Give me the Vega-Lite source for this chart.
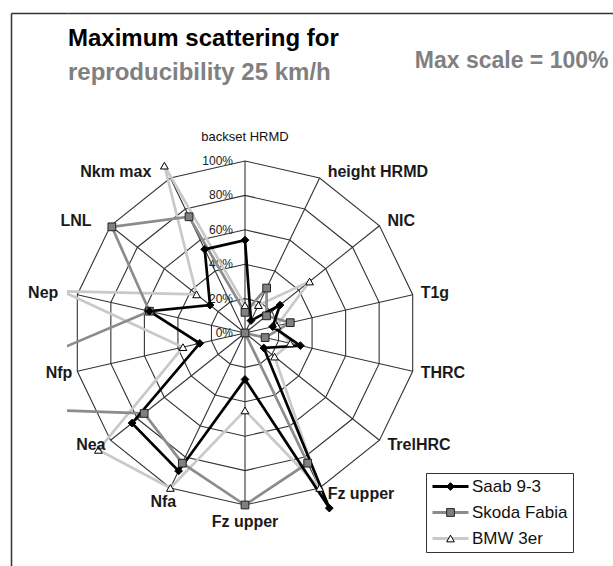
{
  "$schema": "https://vega.github.io/schema/vega-lite/v6.json",
  "width": 546,
  "height": 553,
  "autosize": "none",
  "padding": {"left": 67, "top": 13, "right": 0, "bottom": 0},
  "background": "white",
  "config": {"font": "Liberation Sans", "view": {"stroke": null}},
  "title": {
    "text": "Maximum scattering for",
    "subtitle": "reproducibility 25 km/h",
    "anchor": "start",
    "frame": "group",
    "orient": "top",
    "offset": -73,
    "dx": 1,
    "font": "Liberation Sans",
    "fontSize": 24,
    "fontWeight": "bold",
    "color": "#000000",
    "subtitleFont": "Liberation Sans",
    "subtitleFontSize": 24,
    "subtitleFontWeight": "bold",
    "subtitleColor": "#808080",
    "subtitlePadding": 10
  },
  "datasets": {
    "axes": [
      {"k": 0, "name": "backset HRMD", "lv": [20, 40, 60, 80, 100]},
      {"k": 1, "name": "height HRMD", "lv": [20, 40, 60, 80, 100]},
      {"k": 2, "name": "NIC", "lv": [20, 40, 60, 80, 100]},
      {"k": 3, "name": "T1g", "lv": [20, 40, 60, 80, 100]},
      {"k": 4, "name": "THRC", "lv": [20, 40, 60, 80, 100]},
      {"k": 5, "name": "TrelHRC", "lv": [20, 40, 60, 80, 100]},
      {"k": 6, "name": "Fz upper", "lv": [20, 40, 60, 80, 100]},
      {"k": 7, "name": "Fz upper", "lv": [20, 40, 60, 80, 100]},
      {"k": 8, "name": "Nfa", "lv": [20, 40, 60, 80, 100]},
      {"k": 9, "name": "Nea", "lv": [20, 40, 60, 80, 100]},
      {"k": 10, "name": "Nfp", "lv": [20, 40, 60, 80, 100]},
      {"k": 11, "name": "Nep", "lv": [20, 40, 60, 80, 100]},
      {"k": 12, "name": "LNL", "lv": [20, 40, 60, 80, 100]},
      {"k": 13, "name": "Nkm max", "lv": [20, 40, 60, 80, 100]}
    ],
    "levels": [
      {"lv": 0, "t": "0%"},
      {"lv": 20, "t": "20%"},
      {"lv": 40, "t": "40%"},
      {"lv": 60, "t": "60%"},
      {"lv": 80, "t": "80%"},
      {"lv": 100, "t": "100%"}
    ],
    "vals": [
      {"s": "BMW 3er", "k": 0, "v": 16},
      {"s": "BMW 3er", "k": 1, "v": 18},
      {"s": "BMW 3er", "k": 2, "v": 48},
      {"s": "BMW 3er", "k": 3, "v": 19},
      {"s": "BMW 3er", "k": 4, "v": 27},
      {"s": "BMW 3er", "k": 5, "v": 22},
      {"s": "BMW 3er", "k": 6, "v": 100},
      {"s": "BMW 3er", "k": 7, "v": 45},
      {"s": "BMW 3er", "k": 8, "v": 100},
      {"s": "BMW 3er", "k": 9, "v": 109},
      {"s": "BMW 3er", "k": 10, "v": 37},
      {"s": "BMW 3er", "k": 11, "v": 109},
      {"s": "BMW 3er", "k": 12, "v": 36},
      {"s": "BMW 3er", "k": 13, "v": 108},
      {"s": "Skoda Fabia", "k": 0, "v": 12},
      {"s": "Skoda Fabia", "k": 1, "v": 29},
      {"s": "Skoda Fabia", "k": 2, "v": 16},
      {"s": "Skoda Fabia", "k": 3, "v": 27},
      {"s": "Skoda Fabia", "k": 4, "v": 12},
      {"s": "Skoda Fabia", "k": 5, "v": 0},
      {"s": "Skoda Fabia", "k": 6, "v": 84},
      {"s": "Skoda Fabia", "k": 7, "v": 100},
      {"s": "Skoda Fabia", "k": 8, "v": 84},
      {"s": "Skoda Fabia", "k": 9, "v": 75},
      {"s": "Skoda Fabia", "k": 10, "v": 190},
      {"s": "Skoda Fabia", "k": 11, "v": 57},
      {"s": "Skoda Fabia", "k": 12, "v": 99},
      {"s": "Skoda Fabia", "k": 13, "v": 75},
      {"s": "Saab 9-3", "k": 0, "v": 54},
      {"s": "Saab 9-3", "k": 1, "v": 8},
      {"s": "Saab 9-3", "k": 2, "v": 26},
      {"s": "Saab 9-3", "k": 3, "v": 16.5},
      {"s": "Saab 9-3", "k": 4, "v": 33},
      {"s": "Saab 9-3", "k": 5, "v": 14},
      {"s": "Saab 9-3", "k": 6, "v": 113},
      {"s": "Saab 9-3", "k": 7, "v": 27},
      {"s": "Saab 9-3", "k": 8, "v": 89},
      {"s": "Saab 9-3", "k": 9, "v": 84},
      {"s": "Saab 9-3", "k": 10, "v": 27},
      {"s": "Saab 9-3", "k": 11, "v": 57},
      {"s": "Saab 9-3", "k": 12, "v": 26},
      {"s": "Saab 9-3", "k": 13, "v": 54}
    ]
  },
  "encoding": {
    "x": {
      "field": "px", "type": "quantitative",
      "scale": {"domain": [-103.488, 213.953], "nice": false, "zero": false},
      "axis": {
        "orient": "top", "domain": true, "domainColor": "#333333", "domainWidth": 1.5,
        "ticks": false, "labels": false, "grid": false,
        "title": "Max scale = 100%", "titleFont": "Liberation Sans", "titleFontSize": 23,
        "titleFontWeight": "bold", "titleColor": "#808080",
        "titleX": 541, "titleY": 54, "titleAlign": "right", "titleBaseline": "alphabetic", "titleAnchor": "end"
      }
    },
    "y": {
      "field": "py", "type": "quantitative",
      "scale": {"domain": [-135.465, 186.047], "nice": false, "zero": false},
      "axis": {
        "orient": "left", "offset": 56, "domain": true, "domainColor": "#333333", "domainWidth": 1.5,
        "ticks": true, "values": [186.047], "tickSize": -56, "tickColor": "#333333", "tickWidth": 1.5,
        "labels": false, "grid": false, "title": null
      }
    }
  },
  "layer": [
    {
      "data": {"name": "axes"},
      "transform": [
        {"flatten": ["lv"]},
        {"calculate": "datum.k*2*PI/14", "as": "a"},
        {"calculate": "datum.lv*sin(datum.a)", "as": "px"},
        {"calculate": "datum.lv*cos(datum.a)", "as": "py"}
      ],
      "mark": {"type": "line", "interpolate": "linear-closed", "color": "#333333", "strokeWidth": 1.1},
      "encoding": {"detail": {"field": "lv", "type": "nominal"}, "order": {"field": "k", "type": "quantitative"}}
    },
    {
      "data": {"name": "axes"},
      "transform": [
        {"calculate": "datum.k*2*PI/14", "as": "a"},
        {"calculate": "100*sin(datum.a)", "as": "px"},
        {"calculate": "100*cos(datum.a)", "as": "py"}
      ],
      "mark": {"type": "rule", "color": "#333333", "strokeWidth": 1.1},
      "encoding": {"x2": {"datum": 0}, "y2": {"datum": 0}}
    },
    {
      "data": {"name": "levels"},
      "transform": [
        {"calculate": "0", "as": "px"},
        {"calculate": "datum.lv", "as": "py"}
      ],
      "mark": {"type": "text", "align": "right", "baseline": "middle", "dx": -12, "fontSize": 12, "color": "#222222"},
      "encoding": {"text": {"field": "t", "type": "nominal"}}
    },
    {
      "data": {"name": "vals"},
      "transform": [
        {"calculate": "datum.k*2*PI/14", "as": "a"},
        {"calculate": "datum.v*sin(datum.a)", "as": "px"},
        {"calculate": "datum.v*cos(datum.a)", "as": "py"}
      ],
      "mark": {"type": "line", "interpolate": "linear-closed", "strokeWidth": 2.7, "clip": true},
      "encoding": {
        "color": {
          "field": "s", "type": "nominal",
          "scale": {"domain": ["Saab 9-3", "Skoda Fabia", "BMW 3er"], "range": ["#000000", "#8c8c8c", "#c9c9c9"]},
          "legend": {
            "orient": "none", "legendX": 359, "legendY": 460, "title": null, "padding": 5,
            "strokeColor": "#333333",
            "symbolType": "stroke", "symbolSize": 1296, "symbolStrokeWidth": 3,
            "labelFont": "Liberation Sans", "labelFontSize": 17, "labelColor": "#111111", "labelOffset": 2,
            "clipHeight": 17, "rowPadding": 8
          }
        },
        "order": {"field": "k", "type": "quantitative"}
      }
    },
    {
      "data": {"name": "vals"},
      "transform": [
        {"calculate": "datum.k*2*PI/14", "as": "a"},
        {"calculate": "datum.v*sin(datum.a)", "as": "px"},
        {"calculate": "datum.v*cos(datum.a)", "as": "py"}
      ],
      "mark": {"type": "point", "filled": true, "clip": true, "size": 60, "strokeWidth": 1, "opacity": 1},
      "encoding": {
        "shape": {
          "field": "s", "type": "nominal", "sort": ["Saab 9-3", "Skoda Fabia", "BMW 3er"],
          "scale": {"range": ["diamond", "square", "triangle-up"]},
          "legend": {
            "orient": "none", "legendX": 370, "legendY": 460, "title": null, "padding": 5,
            "symbolSize": 60, "symbolStrokeWidth": 1, "symbolOpacity": 1,
            "symbolFillColor": {"expr": "datum.value === 'Saab 9-3' ? '#000000' : datum.value === 'Skoda Fabia' ? '#808080' : '#ffffff'"},
            "symbolStrokeColor": {"expr": "datum.value === 'Skoda Fabia' ? '#222222' : '#000000'"},
            "labelFontSize": 17, "labelExpr": "''",
            "labelOffset": 2, "clipHeight": 17, "rowPadding": 8
          }
        },
        "fill": {
          "field": "s", "type": "nominal", "sort": ["Saab 9-3", "Skoda Fabia", "BMW 3er"],
          "scale": {"range": ["#000000", "#808080", "#ffffff"]},
          "legend": null
        },
        "stroke": {
          "field": "s", "type": "nominal", "sort": ["Saab 9-3", "Skoda Fabia", "BMW 3er"],
          "scale": {"range": ["#000000", "#222222", "#000000"]},
          "legend": null
        }
      }
    },
    {
      "data": {"name": "axes"},
      "transform": [
        {"filter": "datum.k == 0"},
        {"calculate": "0", "as": "px"},
        {"calculate": "100", "as": "py"}
      ],
      "mark": {"type": "text", "align": "center", "baseline": "middle", "dy": -24, "fontSize": 13, "color": "#111111"},
      "encoding": {"text": {"field": "name", "type": "nominal"}}
    },
    {
      "data": {"name": "axes"},
      "transform": [
        {"filter": "datum.k >= 1 && datum.k <= 6"},
        {"calculate": "datum.k*2*PI/14", "as": "a"},
        {"calculate": "100*sin(datum.a)", "as": "px"},
        {"calculate": "104*cos(datum.a)", "as": "py"}
      ],
      "mark": {"type": "text", "align": "left", "baseline": "middle", "dx": 8, "fontSize": 16, "fontWeight": "bold", "color": "#1a1a1a"},
      "encoding": {"text": {"field": "name", "type": "nominal"}}
    },
    {
      "data": {"name": "axes"},
      "transform": [
        {"filter": "datum.k == 7"},
        {"calculate": "0", "as": "px"},
        {"calculate": "-100", "as": "py"}
      ],
      "mark": {"type": "text", "align": "center", "baseline": "middle", "dy": 17, "fontSize": 16, "fontWeight": "bold", "color": "#1a1a1a"},
      "encoding": {"text": {"field": "name", "type": "nominal"}}
    },
    {
      "data": {"name": "axes"},
      "transform": [
        {"filter": "datum.k == 8"},
        {"calculate": "datum.k*2*PI/14", "as": "a"},
        {"calculate": "100*sin(datum.a)", "as": "px"},
        {"calculate": "100*cos(datum.a)", "as": "py"}
      ],
      "mark": {"type": "text", "align": "center", "baseline": "middle", "dx": -7, "dy": 14, "fontSize": 16, "fontWeight": "bold", "color": "#1a1a1a"},
      "encoding": {"text": {"field": "name", "type": "nominal"}}
    },
    {
      "data": {"name": "axes"},
      "transform": [
        {"filter": "datum.k == 9 || datum.k == 10"},
        {"calculate": "datum.k*2*PI/14", "as": "a"},
        {"calculate": "100*sin(datum.a)", "as": "px"},
        {"calculate": "104*cos(datum.a)", "as": "py"}
      ],
      "mark": {"type": "text", "align": "right", "baseline": "middle", "dx": -5, "fontSize": 16, "fontWeight": "bold", "color": "#1a1a1a"},
      "encoding": {"text": {"field": "name", "type": "nominal"}}
    },
    {
      "data": {"name": "axes"},
      "transform": [
        {"filter": "datum.k >= 11"},
        {"calculate": "datum.k*2*PI/14", "as": "a"},
        {"calculate": "100*sin(datum.a)", "as": "px"},
        {"calculate": "104*cos(datum.a)", "as": "py"}
      ],
      "mark": {"type": "text", "align": "right", "baseline": "middle", "dx": -19, "fontSize": 16, "fontWeight": "bold", "color": "#1a1a1a"},
      "encoding": {"text": {"field": "name", "type": "nominal"}}
    }
  ]
}
